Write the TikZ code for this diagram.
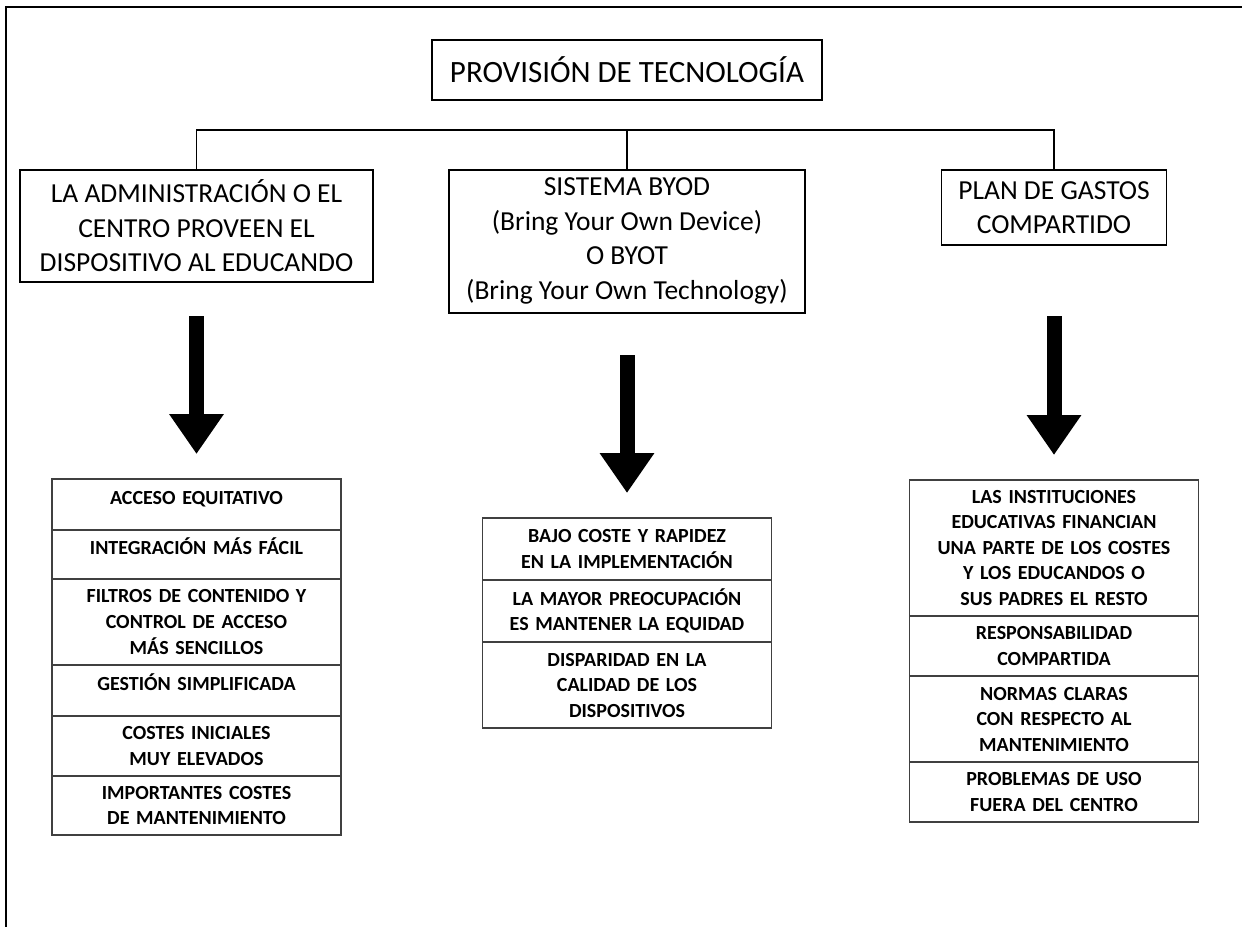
\documentclass[tikz,border=0pt]{standalone}
\usepackage{fontspec}
\setmainfont{Carlito}
\usepackage{tikz}
\usetikzlibrary{arrows.meta,positioning,calc}

\tikzset{
  frameline/.style={line width=2.3bp},
  titlebox/.style={draw, line width=2bp, outer sep=0pt, inner sep=0pt, minimum width=390bp, minimum height=60bp, font=\fontsize{31bp}{36bp}\selectfont},
  headbox/.style={draw, line width=1.8bp, outer sep=0pt, inner sep=0pt, align=center, font=\fontsize{27.5bp}{34.5bp}\selectfont},
  cellbox/.style={draw=black!75, line width=1.2bp, outer sep=0pt, inner sep=0pt, text width=289bp, align=center, font=\bfseries\fontsize{20bp}{25.5bp}\selectfont},
  oneline/.style={text height=12bp, text depth=13bp},
  bus/.style={line width=1.8bp},
  bigarrow/.style={line width=15bp, -{Triangle[length=40bp,width=52bp]}},
}

\begin{document}
\begin{tikzpicture}[x=1bp,y=-1bp]

  \useasboundingbox (0,0) rectangle (1242,927);
  \draw[frameline] (6,927) -- (6,7) -- (1242,7);

  \node[titlebox] (title) at (627,70) {PROVISIÓN DE TECNOLOGÍA};

  \node[headbox, minimum width=353bp, minimum height=112bp] (box1) at (196.5,226)
    {LA ADMINISTRACIÓN O EL\\CENTRO PROVEEN  EL\\DISPOSITIVO AL EDUCANDO};
  \node[headbox, minimum width=356bp, minimum height=143bp, text depth=6bp] (box2) at (627,241.5)
    {SISTEMA BYOD\\(Bring Your Own Device)\\O BYOT\\(Bring Your Own Technology)};
  \node[headbox, minimum width=225bp, minimum height=75bp] (box3) at (1054,207.5)
    {PLAN DE GASTOS\\COMPARTIDO};

  \coordinate (busmid) at (627,130);
  \draw[bus] (box1.north) |- (busmid) -| (box3.north);
  \draw[bus] (busmid) -- (box2.north);

  % left table
  \node[cellbox, oneline, minimum height=51bp, below=197bp of box1] (tab1a) {ACCESO EQUITATIVO};
  \node[cellbox, oneline, minimum height=49bp, below=0pt of tab1a] (tab1b) {INTEGRACIÓN MÁS FÁCIL};
  \node[cellbox, minimum height=86bp, below=0pt of tab1b] (tab1c) {FILTROS DE CONTENIDO Y\\CONTROL DE ACCESO\\MÁS SENCILLOS};
  \node[cellbox, oneline, minimum height=51bp, below=0pt of tab1c] (tab1d) {GESTIÓN SIMPLIFICADA};
  \node[cellbox, minimum height=60bp, below=0pt of tab1d] (tab1e) {COSTES INICIALES\\MUY ELEVADOS};
  \node[cellbox, minimum height=59bp, below=0pt of tab1e] (tab1f) {IMPORTANTES COSTES\\DE MANTENIMIENTO};

  % middle table
  \node[cellbox, minimum height=62bp, below=205bp of box2] (tab2a) {BAJO COSTE Y RAPIDEZ\\EN LA IMPLEMENTACIÓN};
  \node[cellbox, minimum height=62bp, below=0pt of tab2a] (tab2b) {LA MAYOR PREOCUPACIÓN\\ES MANTENER LA EQUIDAD};
  \node[cellbox, minimum height=86bp, below=0pt of tab2b] (tab2c) {DISPARIDAD EN LA\\CALIDAD DE LOS\\DISPOSITIVOS};

  % right table
  \node[cellbox, minimum height=136bp, below=235bp of box3] (tab3a) {LAS INSTITUCIONES\\EDUCATIVAS FINANCIAN\\UNA PARTE DE LOS COSTES\\Y LOS EDUCANDOS O\\SUS PADRES EL RESTO};
  \node[cellbox, minimum height=60bp, below=0pt of tab3a] (tab3b) {RESPONSABILIDAD\\COMPARTIDA};
  \node[cellbox, minimum height=86bp, below=0pt of tab3b] (tab3c) {NORMAS CLARAS\\CON RESPECTO AL\\MANTENIMIENTO};
  \node[cellbox, minimum height=60bp, below=0pt of tab3c] (tab3d) {PROBLEMAS DE USO\\FUERA DEL CENTRO};

  \draw[bigarrow] ([yshift=-34bp]box1.south) -- ([yshift=25bp]tab1a.north);
  \draw[bigarrow] ([yshift=-42bp]box2.south) -- ([yshift=25bp]tab2a.north);
  \draw[bigarrow] ([yshift=-71bp]box3.south) -- ([yshift=25bp]tab3a.north);

\end{tikzpicture}
\end{document}
